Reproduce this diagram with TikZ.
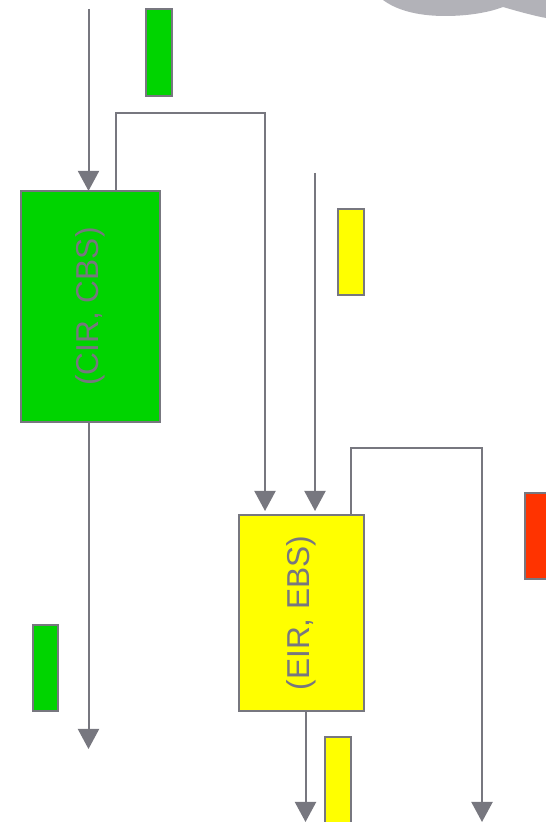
\documentclass[tikz,border=0pt]{standalone}
\usepackage{fontspec}
\setmainfont{Liberation Sans}
\usetikzlibrary{arrows.meta, positioning}
\definecolor{linegray}{RGB}{119,119,127}
\definecolor{boxgreen}{RGB}{0,212,0}
\definecolor{boxyellow}{RGB}{255,255,0}
\definecolor{boxred}{RGB}{255,51,0}
\definecolor{blobgray}{RGB}{178,178,184}
\tikzset{
    flow/.style={draw=linegray, line width=0.02cm, -{Triangle[length=0.2cm, width=0.21cm]}},
    rate/.style={draw=linegray, line width=0.02cm, outer sep=0pt, inner sep=0pt, text=linegray,
      font=\fontsize{9pt}{10pt}\selectfont},
    packet/.style={rate, minimum width=0.255cm, minimum height=0.86cm},
}

\begin{document}
\begin{tikzpicture}[x=0.01cm, y=-0.01cm]
    \useasboundingbox (0,0) rectangle (546,822);

    % cloud edge, top right
    \fill[blobgray] (383,0) .. controls (395,9) and (415,16) .. (445,16)
      .. controls (470,16) and (490,12) .. (503,7)
      .. controls (520,12) and (535,16) .. (546,18) -- (546,0) -- cycle;

    \node[rate, fill=boxgreen, minimum width=1.38cm, minimum height=2.31cm] (cirbox) at (90.5,306.5)
      {\rotatebox{90}{(CIR, CBS)}};
    \node[rate, fill=boxyellow, minimum width=1.25cm, minimum height=1.96cm] (eirbox) at (301.5,613)
      {\rotatebox{90}{\raisebox{0.4pt}{(EIR, EBS)}}};

    \node[packet, fill=boxgreen] (greentop) at (159,52.5) {};
    \node[packet, fill=boxyellow] (yellowtop) at (351,252) {};
    \node[packet, fill=boxgreen] (greenout) at (45.5,668) {};
    \node[packet, fill=boxyellow] (yellowout) at (338,780) {};
    \node[packet, fill=boxred] (redout) at (538,536) {};

    \coordinate (cirin) at (88.5,9);
    \coordinate (cirend) at (88.5,749);
    \coordinate (cirspill) at (116,113);
    \coordinate (eirfill) at (265,511);
    \coordinate (eirin) at (315,173);
    \coordinate (eirhit) at (315,511);
    \coordinate (eirspill) at (351,448);
    \coordinate (redend) at (482,822);
    \coordinate (yellowend) at (305.5,822);

    \draw[flow] (cirin) -- (cirin |- cirbox.north);
    \draw[flow] (cirin |- cirbox.south) -- (cirend);
    \draw[flow] (cirspill |- cirbox.north) -- (cirspill) -| (eirfill);
    \draw[flow] (eirin) -- (eirhit);
    \draw[flow] (eirspill |- eirbox.north) -- (eirspill) -| (redend);
    \draw[flow] (yellowend |- eirbox.south) -- (yellowend);
\end{tikzpicture}
\end{document}
